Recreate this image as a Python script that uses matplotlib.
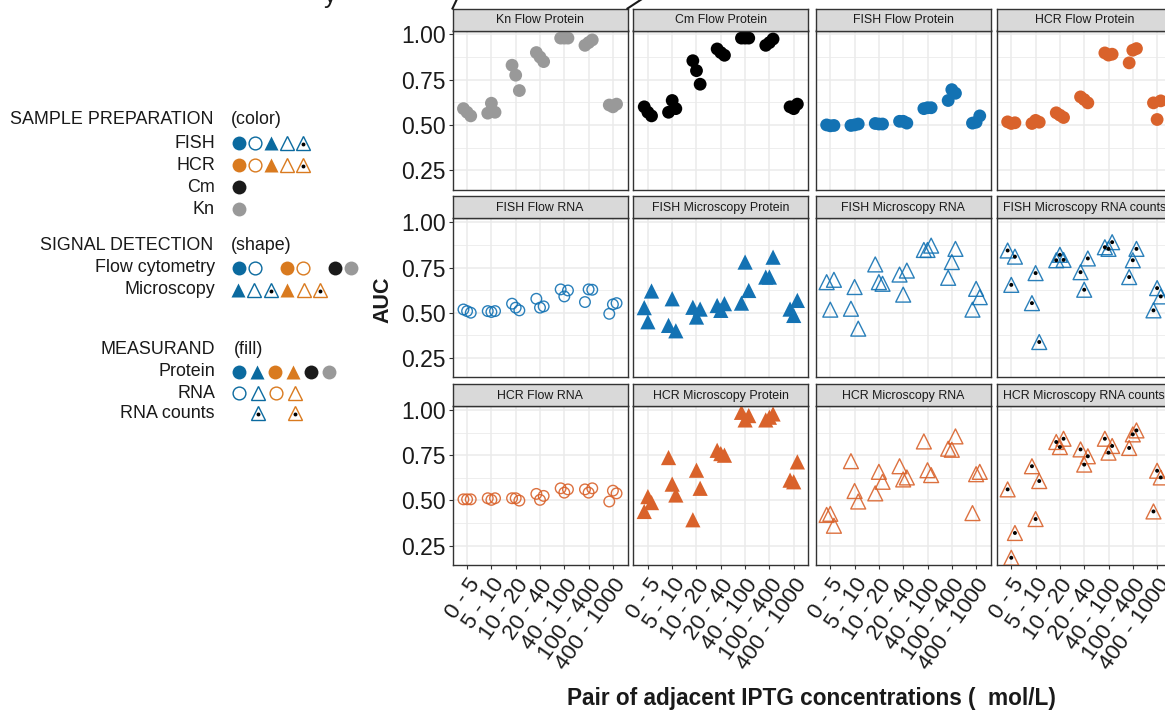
import numpy as np
import matplotlib
matplotlib.use('Agg')
import matplotlib.pyplot as plt
from matplotlib.lines import Line2D

plt.rcParams['font.family'] = ['Liberation Sans', 'DejaVu Sans']

# x categories (pairs of adjacent IPTG concentrations)
categories = ['0 - 5', '5 - 10', '10 - 20', '20 - 40', '40 - 100', '100 - 400', '400 - 1000']

# AUC values, three replicates per category
kn_flow_protein = [[0.59, 0.57, 0.55], [0.565, 0.62, 0.57], [0.83, 0.775, 0.69], [0.90, 0.875, 0.85],
                   [0.98, 0.98, 0.98], [0.94, 0.955, 0.97], [0.61, 0.60, 0.615]]
cm_flow_protein = [[0.60, 0.57, 0.55], [0.57, 0.635, 0.59], [0.855, 0.80, 0.725], [0.92, 0.90, 0.885],
                   [0.98, 0.98, 0.98], [0.94, 0.955, 0.975], [0.60, 0.59, 0.615]]
fish_flow_protein = [[0.50, 0.495, 0.497], [0.497, 0.50, 0.505], [0.508, 0.505, 0.505], [0.52, 0.52, 0.51],
                     [0.59, 0.595, 0.595], [0.635, 0.695, 0.675], [0.51, 0.515, 0.55]]
hcr_flow_protein = [[0.517, 0.508, 0.512], [0.508, 0.525, 0.515], [0.567, 0.554, 0.541], [0.655, 0.64, 0.622],
                    [0.898, 0.886, 0.891], [0.843, 0.913, 0.922], [0.622, 0.53, 0.633]]
fish_flow_rna = [[0.518, 0.509, 0.50], [0.509, 0.504, 0.509], [0.55, 0.528, 0.513], [0.577, 0.528, 0.535],
                 [0.629, 0.59, 0.623], [0.559, 0.629, 0.627], [0.494, 0.546, 0.553]]
fish_micro_protein = [[0.528, 0.45, 0.62], [0.43, 0.577, 0.40], [0.53, 0.476, 0.52], [0.54, 0.513, 0.55],
                      [0.553, 0.78, 0.623], [0.697, 0.697, 0.807], [0.52, 0.485, 0.568]]
fish_micro_rna = [[0.669, 0.517, 0.682], [0.522, 0.642, 0.412], [0.767, 0.669, 0.66], [0.711, 0.60, 0.733],
                  [0.847, 0.847, 0.871], [0.693, 0.78, 0.853], [0.517, 0.632, 0.586]]
fish_micro_counts = [[0.844, 0.654, 0.81], [0.553, 0.719, 0.338], [0.79, 0.82, 0.792], [0.724, 0.627, 0.80],
                     [0.862, 0.853, 0.89], [0.697, 0.79, 0.853], [0.513, 0.636, 0.59]]
hcr_flow_rna = [[0.506, 0.506, 0.506], [0.512, 0.503, 0.512], [0.512, 0.512, 0.499], [0.536, 0.503, 0.525],
                [0.567, 0.543, 0.561], [0.561, 0.543, 0.567], [0.494, 0.554, 0.539]]
hcr_micro_protein = [[0.439, 0.521, 0.488], [0.737, 0.59, 0.53], [0.393, 0.667, 0.567], [0.777, 0.759, 0.75],
                     [0.987, 0.945, 0.969], [0.945, 0.96, 0.978], [0.612, 0.603, 0.713]]
hcr_micro_rna = [[0.42, 0.426, 0.36], [0.717, 0.552, 0.494], [0.539, 0.658, 0.603], [0.689, 0.616, 0.627],
                 [0.826, 0.667, 0.64], [0.786, 0.78, 0.854], [0.43, 0.645, 0.658]]
hcr_micro_counts = [[0.561, 0.183, 0.32], [0.689, 0.397, 0.607], [0.823, 0.795, 0.841], [0.782, 0.698, 0.744],
                    [0.841, 0.764, 0.801], [0.79, 0.865, 0.887], [0.439, 0.664, 0.627]]

jitter = [-0.15, 0.0, 0.15]

# colours
blue = '#1372B3'
orange = '#D9622B'
black = '#000000'
grey = '#999999'
leg_blue = '#0B6A9F'
leg_orange = '#D97A1F'

# (title, values, colour, marker, filled, dot)
panels = [
    ('Kn Flow Protein', kn_flow_protein, grey, 'o', True, False),
    ('Cm Flow Protein', cm_flow_protein, black, 'o', True, False),
    ('FISH Flow Protein', fish_flow_protein, blue, 'o', True, False),
    ('HCR Flow Protein', hcr_flow_protein, orange, 'o', True, False),
    ('FISH Flow RNA', fish_flow_rna, blue, 'o', False, False),
    ('FISH Microscopy Protein', fish_micro_protein, blue, '^', True, False),
    ('FISH Microscopy RNA', fish_micro_rna, blue, '^', False, False),
    ('FISH Microscopy RNA counts', fish_micro_counts, blue, '^', False, True),
    ('HCR Flow RNA', hcr_flow_rna, orange, 'o', False, False),
    ('HCR Microscopy Protein', hcr_micro_protein, orange, '^', True, False),
    ('HCR Microscopy RNA', hcr_micro_rna, orange, '^', False, False),
    ('HCR Microscopy RNA counts', hcr_micro_counts, orange, '^', False, True),
]

W, H = 1165, 712
fig = plt.figure(figsize=(W / 100, H / 100), dpi=100)


def rect(x0, y0, x1, y1):
    # pixel box (top-left origin) -> figure fraction
    return [x0 / W, 1 - y1 / H, (x1 - x0) / W, (y1 - y0) / H]


col_left = [452.5, 633.3, 815.7, 996.7]
panel_w = 175
row_top = [30.5, 218.3, 406.0]
panel_h = 159
strip_h = 22

for i, (title, vals, col, mk, filled, dot) in enumerate(panels):
    r, c = divmod(i, 4)
    x0 = col_left[c]
    y0 = row_top[r]
    ax = fig.add_axes(rect(x0, y0, x0 + panel_w, y0 + panel_h))
    ax.set_xlim(0.4, 7.6)
    ax.set_ylim(0.143, 1.022)
    ax.set_yticks([0.25, 0.5, 0.75, 1.0])
    ax.set_yticks([0.375, 0.625, 0.875], minor=True)
    ax.set_xticks(np.arange(1, 8))
    ax.grid(True, which='major', color='#EBEBEB', lw=1.1)
    ax.grid(True, which='minor', axis='y', color='#EBEBEB', lw=0.6)
    ax.set_axisbelow(True)
    for sp in ax.spines.values():
        sp.set_color('#333333')
        sp.set_linewidth(1.0)
    ax.tick_params(which='minor', length=0)
    ax.tick_params(which='major', length=3, width=0.8, color='#333333', labelsize=16.5,
                   labelcolor='#1a1a1a', pad=2)
    if c == 0:
        ax.set_yticklabels(['0.25', '0.50', '0.75', '1.00'])
    else:
        ax.tick_params(axis='y', length=0, labelleft=False)
    if r == 2:
        ax.set_xticklabels(categories, rotation=55, ha='right', va='top', rotation_mode='anchor',
                           fontsize=16)
        ax.tick_params(axis='x', pad=4)
    else:
        ax.tick_params(axis='x', length=0, labelbottom=False)

    xs = []
    ys = []
    for k, reps in enumerate(vals):
        for j, v in enumerate(reps):
            xs.append(k + 1 + jitter[j])
            ys.append(v)
    if filled:
        size = 85 if mk == 'o' else 120
        ax.scatter(xs, ys, s=size, marker=mk, color=col, edgecolors='none', zorder=3)
    else:
        size = 58 if mk == 'o' else 115
        ax.scatter(xs, ys, s=size, marker=mk, facecolors='none', edgecolors=col, linewidths=1.0,
                   alpha=0.9, zorder=3)
    if dot:
        ax.scatter(xs, ys, s=8, marker='o', color='black', edgecolors='none', zorder=4)

    # strip
    sax = fig.add_axes(rect(x0, y0 - strip_h, x0 + panel_w, y0))
    sax.set_facecolor('#D9D9D9')
    sax.set_xticks([])
    sax.set_yticks([])
    for sp in sax.spines.values():
        sp.set_color('#333333')
        sp.set_linewidth(1.0)
    sax.text(0.5, 0.47, title, ha='center', va='center', fontsize=8.9, color='#1a1a1a',
             transform=sax.transAxes)

# axis titles
fig.text(383 / W, 1 - 300 / H, 'AUC', rotation=90, ha='center', va='center', fontsize=15.5,
         fontweight='bold', color='#1a1a1a')
fig.text(811 / W, 1 - 699 / H, 'Pair of adjacent IPTG concentrations (  mol/L)', ha='center',
         va='center', fontsize=16.3, fontweight='bold', color='#1a1a1a')

# leftovers of the surrounding figure
fig.text(330 / W, 1 - 3 / H, 'y', ha='center', va='baseline', fontsize=18, color='#1a1a1a')
fig.add_artist(Line2D([452.5 / W, 457 / W], [1 - 8.5 / H, 1 + 1 / H], color='#1a1a1a', lw=1.5))
fig.add_artist(Line2D([627.5 / W, 642 / W], [1 - 8.5 / H, 1 + 1 / H], color='#1a1a1a', lw=1.5))

# hand-made legend on the left
lax = fig.add_axes([0, 0, 1, 1])
lax.set_xlim(0, W)
lax.set_ylim(H, 0)
lax.axis('off')
lax.set_zorder(-1)

txt = dict(fontsize=12.9, color='#1a1a1a', va='center')


def mark(x, y, kind, col):
    if kind == 'fc':
        lax.plot(x, y, 'o', ms=10, color=col, mec='none')
    elif kind == 'oc':
        lax.plot(x, y, 'o', ms=9.2, mfc='none', mec=col, mew=1.0)
    elif kind == 'ft':
        lax.plot(x, y, '^', ms=10.5, color=col, mec='none')
    else:
        lax.plot(x, y, '^', ms=10, mfc='none', mec=col, mew=1.0)
        if kind == 'dt':
            lax.plot(x, y + 1, 'o', ms=2.8, color='black', mec='none')


def legend_row(y, label, items, x_start=239, step=16):
    lax.text(215, y, label, ha='right', **txt)
    for k, item in enumerate(items):
        if item is None:
            continue
        kind, col = item
        mark(x_start + k * step, y, kind, col)


lax.text(213, 120, 'SAMPLE PREPARATION', ha='right', **txt)
lax.text(231, 120, '(color)', ha='left', **txt)
legend_row(143, 'FISH', [('fc', leg_blue), ('oc', leg_blue), ('ft', leg_blue), ('ot', leg_blue),
                         ('dt', leg_blue)])
legend_row(165, 'HCR', [('fc', leg_orange), ('oc', leg_orange), ('ft', leg_orange), ('ot', leg_orange),
                        ('dt', leg_orange)])
legend_row(187, 'Cm', [('fc', '#1a1a1a')])
legend_row(209, 'Kn', [('fc', grey)])

lax.text(213, 245, 'SIGNAL DETECTION', ha='right', **txt)
lax.text(231, 245, '(shape)', ha='left', **txt)
legend_row(268, 'Flow cytometry', [('fc', leg_blue), ('oc', leg_blue), None, ('fc', leg_orange),
                                   ('oc', leg_orange), None, ('fc', '#1a1a1a'), ('fc', grey)],
           step=16)
legend_row(290, 'Microscopy', [('ft', leg_blue), ('ot', leg_blue), ('dt', leg_blue), ('ft', leg_orange),
                               ('ot', leg_orange), ('dt', leg_orange)], x_start=238, step=16.4)

lax.text(215, 350, 'MEASURAND', ha='right', **txt)
lax.text(234, 350, '(fill)', ha='left', **txt)
legend_row(372, 'Protein', [('fc', leg_blue), ('ft', leg_blue), ('fc', leg_orange), ('ft', leg_orange),
                            ('fc', '#1a1a1a'), ('fc', grey)], step=18)
legend_row(393, 'RNA', [('oc', leg_blue), ('ot', leg_blue), ('oc', leg_orange), ('ot', leg_orange)],
           step=18.7)
legend_row(413, 'RNA counts', [None, ('dt', leg_blue), None, ('dt', leg_orange)], step=18.5)

fig.savefig('out.png', dpi=100)
